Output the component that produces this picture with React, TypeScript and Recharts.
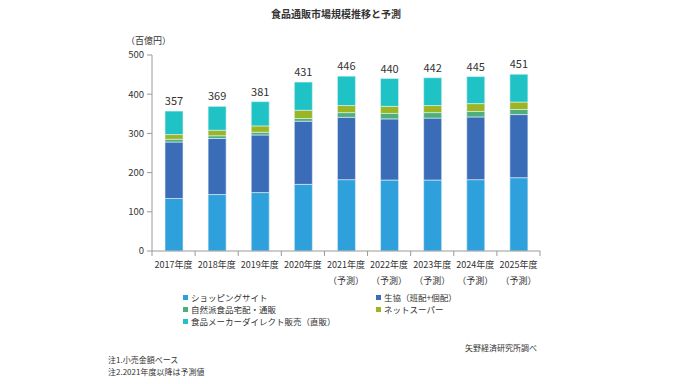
// App.tsx
import React from 'react';
import { BarChart, Bar, XAxis, YAxis, LabelList, Legend } from 'recharts';

// Data (百億円)
const years = ['2017年度', '2018年度', '2019年度', '2020年度', '2021年度', '2022年度', '2023年度', '2024年度', '2025年度'];
const forecast = [false, false, false, false, true, true, true, true, true];
const shopping = [134, 144, 149, 170, 182, 181, 181, 182, 187];
const coop = [144, 143, 147, 161, 159, 156, 158, 160, 161];
const natural = [7, 7, 7, 7, 12, 14, 14, 14, 13];
const netSuper = [12, 14, 16, 21, 18, 18, 18, 20, 19];
const direct = [60, 61, 62, 72, 75, 71, 71, 69, 71];
const totals = [357, 369, 381, 431, 446, 440, 442, 445, 451];
const yTicks = [0, 100, 200, 300, 400, 500];

const series = [
  { key: 'shopping', name: 'ショッピングサイト', color: '#2ea1dc' },
  { key: 'coop', name: '生協（班配+個配）', color: '#3b6cb7' },
  { key: 'natural', name: '自然派食品宅配・通販', color: '#4daf7c' },
  { key: 'netSuper', name: 'ネットスーパー', color: '#9bb523' },
  { key: 'direct', name: '食品メーカーダイレクト販売（直販）', color: '#1fc3c6' },
];

const data = years.map((year, i) => ({
  year,
  forecast: forecast[i],
  shopping: shopping[i],
  coop: coop[i],
  natural: natural[i],
  netSuper: netSuper[i],
  direct: direct[i],
  total: totals[i],
}));

// Layout
const W = 682;
const H = 384;
const PLOT_LEFT = 152;
const PLOT_RIGHT = 540;
const PLOT_TOP = 55;
const PLOT_BOTTOM = 251;
const X_AXIS_H = 30;
const HALF_BAND = (PLOT_RIGHT - PLOT_LEFT) / years.length / 2;
const FONT = '"Noto Sans CJK JP", "Noto Sans", sans-serif';
const AXIS_COLOR = '#9a9a9a';
const TEXT_COLOR = '#333333';

const XTick = (props: any) => {
  const { x, y, payload, index } = props;
  const axisY = y - 7;
  const row = data[index];
  return (
    <g>
      <line x1={x - HALF_BAND} y1={axisY} x2={x - HALF_BAND} y2={axisY + 5} stroke={AXIS_COLOR} />
      {index === years.length - 1 && (
        <line x1={x + HALF_BAND} y1={axisY} x2={x + HALF_BAND} y2={axisY + 5} stroke={AXIS_COLOR} />
      )}
      <text x={x} y={y + 10} textAnchor="middle" fontSize={9} fill={TEXT_COLOR} fontFamily={FONT}>
        {payload.value}
      </text>
      {row && row.forecast && (
        <text x={x} y={y + 26} textAnchor="middle" fontSize={9} fill={TEXT_COLOR} fontFamily={FONT}>
          （予測）
        </text>
      )}
    </g>
  );
};

const LegendBox = () => (
  <div
    style={{
      display: 'grid',
      gridTemplateColumns: '193px 200px',
      rowGap: 0,
      fontFamily: FONT,
      fontSize: '8.5px',
      color: TEXT_COLOR,
      lineHeight: '12px',
    }}
  >
    {series.map((s) => (
      <div key={s.key} style={{ display: 'flex', alignItems: 'center', whiteSpace: 'nowrap' }}>
        <span style={{ width: 5, height: 5, backgroundColor: s.color, marginRight: 3, display: 'inline-block' }} />
        {s.name}
      </div>
    ))}
  </div>
);

const textStyle = (left: number, top: number, size: number, extra: React.CSSProperties = {}) => ({
  position: 'absolute' as const,
  left,
  top,
  fontSize: size,
  fontFamily: FONT,
  color: TEXT_COLOR,
  whiteSpace: 'nowrap' as const,
  lineHeight: 1,
  ...extra,
});

const App: React.FC = () => {
  return (
    <div style={{ position: 'absolute', left: 0, top: 0, width: W, height: H, background: '#ffffff' }}>
      <div style={textStyle(0, 9, 10, { width: W - 10, textAlign: 'center', fontWeight: 700 })}>
        食品通販市場規模推移と予測
      </div>
      <div style={textStyle(126, 36, 9)}>（百億円）</div>

      <BarChart
        width={W}
        height={H}
        data={data}
        margin={{ top: PLOT_TOP, right: W - PLOT_RIGHT, bottom: H - PLOT_BOTTOM - X_AXIS_H, left: 0 }}
        barSize={18}
      >
        <XAxis
          dataKey="year"
          height={X_AXIS_H}
          stroke={AXIS_COLOR}
          tickLine={false}
          tickSize={5}
          tickMargin={2}
          interval={0}
          tick={<XTick />}
        />
        <YAxis
          width={PLOT_LEFT}
          domain={[0, 500]}
          ticks={yTicks}
          stroke={AXIS_COLOR}
          tickSize={5}
          tickMargin={3}
          tick={{ fontSize: 9.5, fill: TEXT_COLOR, fontFamily: FONT }}
          interval={0}
        />
        <Legend
          verticalAlign="middle"
          align="center"
          layout="horizontal"
          content={<LegendBox />}
          wrapperStyle={{ top: 291, left: 183, width: 420 }}
        />
        {series.map((s, i) => (
          <Bar
            key={s.key}
            dataKey={s.key}
            name={s.name}
            stackId="total"
            fill={s.color}
            stroke="#e6f2f7"
            strokeWidth={0.6}
            isAnimationActive={false}
          >
            {i === series.length - 1 && (
              <LabelList dataKey="total" position="top" offset={6} fontSize={11} fill={TEXT_COLOR} fontFamily={FONT} />
            )}
          </Bar>
        ))}
      </BarChart>

      <div style={textStyle(465, 344, 8)}>矢野経済研究所調べ</div>
      <div style={textStyle(108, 356, 8)}>注1.小売金額ベース</div>
      <div style={textStyle(108, 368, 8)}>注2.2021年度以降は予測値</div>
    </div>
  );
};

export default App;
